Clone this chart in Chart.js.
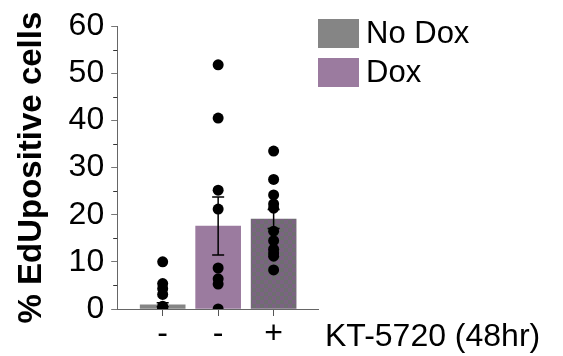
<!DOCTYPE html>
<html lang="en">
<head>
    <meta charset="UTF-8">
    <title>EdU positive cells</title>
    <script src="https://cdn.jsdelivr.net/npm/chart.js"></script>
    <style>
        html, body { margin: 0; padding: 0; background: #fff; }
        #wrap { width: 563px; height: 356px; }
    </style>
</head>
<body>
    <div id="wrap"><canvas id="eduChart"></canvas></div>

    <script>
        // values
        const kt5720 = ['-', '-', '+'];
        const xTitle = 'KT-5720 (48hr)';
        const yTitle = '% EdUpositive cells';
        const groupNames = ['No Dox', 'Dox'];
        const means = [0.9, 17.6, 19.1];
        const sems = [0.4, 6.15, 2.0];
        const noDoxPoints = [10.0, 5.4, 4.3, 3.1, 0.6, 0, 0];
        const doxPoints = [51.8, 40.5, 25.2, 21.2, 8.7, 6.4, 5.3, 0];
        const doxKtPoints = [33.5, 27.5, 24.2, 22.3, 21.4, 16.5, 14.5, 12.7, 11.9, 11.2, 8.3];
        const yTicks = [0, 10, 20, 30, 40, 50, 60];

        const FONT = 'Liberation Sans, Arial, sans-serif';
        const GRAY = '#858585';
        const PURPLE = '#9b7b9f';

        // checkered fill for the KT-5720 bar
        function checker() {
            const c = document.createElement('canvas');
            c.width = 8; c.height = 8;
            const g = c.getContext('2d');
            g.fillStyle = '#6e6e70';
            g.fillRect(0, 0, 8, 8);
            g.fillStyle = '#7c6383';
            g.fillRect(0, 0, 4, 4);
            g.fillRect(4, 4, 4, 4);
            return g.createPattern(c, 'repeat');
        }

        const pointSets = [noDoxPoints, doxPoints, doxKtPoints];
        const scatterData = [];
        pointSets.forEach((set, i) => set.forEach(v => scatterData.push({ x: i, y: v })));

        const errorBars = {
            id: 'errorBars',
            afterDatasetDraw(chart, args) {
                if (args.index !== 0) return;
                const ctx = chart.ctx;
                const xs = chart.scales.x, ys = chart.scales.y;
                ctx.save();
                ctx.strokeStyle = '#000';
                ctx.lineWidth = 1.5;
                means.forEach((m, i) => {
                    const x = xs.getPixelForValue(i);
                    const top = ys.getPixelForValue(m + sems[i]);
                    const bot = ys.getPixelForValue(Math.max(0, m - sems[i]));
                    ctx.beginPath();
                    ctx.moveTo(x, top); ctx.lineTo(x, bot);
                    ctx.moveTo(x - 6, top); ctx.lineTo(x + 6, top);
                    ctx.moveTo(x - 6, bot); ctx.lineTo(x + 6, bot);
                    ctx.stroke();
                });
                ctx.restore();
            }
        };

        const extras = {
            id: 'extras',
            afterDraw(chart) {
                const ctx = chart.ctx;
                const xs = chart.scales.x, ys = chart.scales.y;
                ctx.save();
                // minor y ticks
                ctx.strokeStyle = '#333';
                ctx.lineWidth = 1;
                for (let v = 5; v < 60; v += 10) {
                    const y = Math.round(ys.getPixelForValue(v)) + 0.5;
                    ctx.beginPath();
                    ctx.moveTo(xs.left - 4, y); ctx.lineTo(xs.left, y);
                    ctx.stroke();
                }
                // legend
                ctx.font = '31px ' + FONT;
                ctx.textBaseline = 'middle';
                ctx.textAlign = 'left';
                const legendColors = [GRAY, PURPLE];
                groupNames.forEach((name, i) => {
                    const top = 19 + i * 39;
                    ctx.fillStyle = legendColors[i];
                    ctx.fillRect(318, top, 41, 29);
                    ctx.fillStyle = '#000';
                    ctx.fillText(name, 366, top + 15);
                });
                // treatment label next to the x ticks
                ctx.font = '32px ' + FONT;
                ctx.fillText(xTitle, 325, 337);
                ctx.restore();
            }
        };

        new Chart(document.getElementById('eduChart'), {
            data: {
                datasets: [
                    {
                        type: 'bar',
                        label: groupNames[0],
                        data: [{ x: 0, y: means[0] }],
                        backgroundColor: GRAY,
                        barThickness: 45,
                        grouped: false,
                        order: 1
                    },
                    {
                        type: 'bar',
                        label: groupNames[1],
                        data: [{ x: 1, y: means[1] }, { x: 2, y: means[2] }],
                        backgroundColor: [PURPLE, checker()],
                        barThickness: 45,
                        grouped: false,
                        order: 1
                    },
                    {
                        type: 'scatter',
                        label: 'cells',
                        data: scatterData,
                        backgroundColor: '#000',
                        borderWidth: 0,
                        pointRadius: 5.5,
                        order: 0
                    }
                ]
            },
            options: {
                responsive: true,
                maintainAspectRatio: false,
                animation: false,
                layout: { padding: { left: 12, top: 24, right: 245, bottom: 4 } },
                plugins: {
                    legend: { display: false },
                    tooltip: { enabled: false }
                },
                scales: {
                    x: {
                        type: 'linear',
                        min: -0.82,
                        max: 2.8,
                        offset: false,
                        afterBuildTicks: scale => {
                            scale.ticks = kt5720.map((_, i) => ({ value: i }));
                        },
                        ticks: {
                            callback: v => kt5720[v],
                            font: { family: FONT, size: 32, lineHeight: 1 },
                            color: '#000',
                            padding: 2,
                            maxRotation: 0
                        },
                        grid: { drawOnChartArea: false, offset: false, tickLength: 7, tickColor: '#555' },
                        border: { color: '#666', width: 1 }
                    },
                    y: {
                        min: 0,
                        max: 60,
                        afterBuildTicks: scale => {
                            scale.ticks = yTicks.map(v => ({ value: v }));
                        },
                        ticks: {
                            font: { family: FONT, size: 32 },
                            color: '#000',
                            padding: 7
                        },
                        grid: { drawOnChartArea: false, tickLength: 6, tickColor: '#777' },
                        border: { color: '#666', width: 1 },
                        title: {
                            display: true,
                            text: yTitle,
                            font: { family: FONT, size: 33, weight: 'bold' },
                            color: '#000',
                            padding: { top: 0, bottom: 10 }
                        }
                    }
                }
            },
            plugins: [errorBars, extras]
        });
    </script>
</body>
</html>
